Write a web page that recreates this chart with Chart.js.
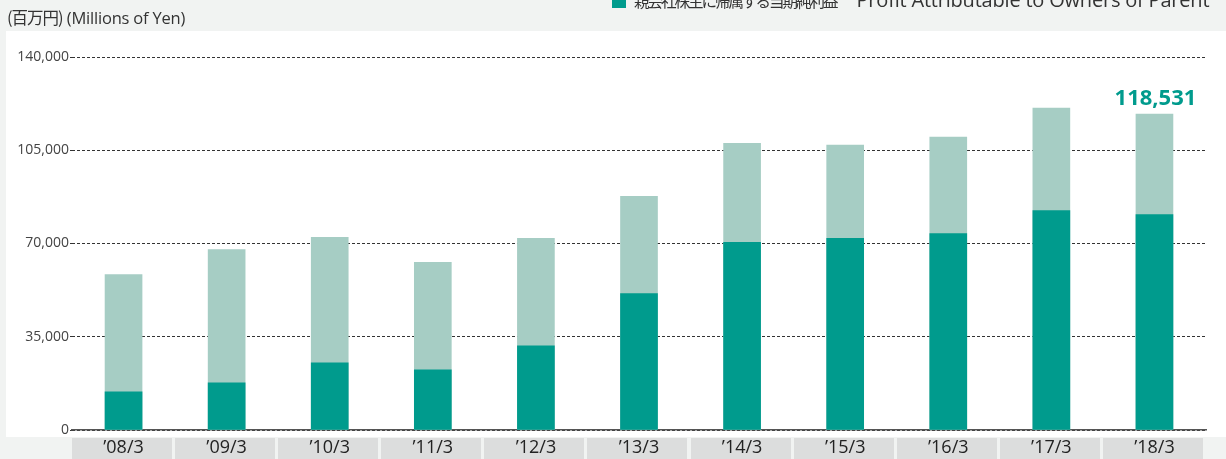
<!DOCTYPE html>
<html>
<head>
<meta charset="utf-8">
<script src="https://cdn.jsdelivr.net/npm/chart.js@4"></script>
<style>
  html, body { margin: 0; padding: 0; background: #f1f3f2; overflow: hidden; }
  #wrap { position: relative; width: 1226px; height: 459px; }
  #grafico { position: absolute; left: 0; top: 0; }
  .txt { position: absolute; white-space: nowrap; color: #333; font-family: "Open Sans", "Noto Sans CJK JP", sans-serif; }
  #unidad { left: 7px; top: 5px; font-size: 16.5px; letter-spacing: -0.2px; }
  #unidad .jp { font-family: "Noto Sans CJK JP", sans-serif; letter-spacing: -1px; }
  #leyenda { left: 612px; top: -12px; font-size: 20px; line-height: 24px; }
  #leyenda .cuadro { display: inline-block; width: 14px; height: 14px; background: #009b8d; vertical-align: -1px; margin-right: 8px; }
  #leyenda .jp { font-family: "Noto Sans CJK JP", sans-serif; font-size: 15.5px; letter-spacing: -2px; }
  #leyenda .en { margin-left: 20px; letter-spacing: -0.2px; }
</style>
</head>
<body>
<div id="wrap">
  <canvas id="grafico" width="1226" height="459"></canvas>
  <div class="txt" id="unidad"><span class="jp">(百万円)</span> (Millions of Yen)</div>
  <div class="txt" id="leyenda"><span class="cuadro"></span><span class="jp">親会社株主に帰属する当期純利益</span><span class="en">Profit Attributable to Owners of Parent</span></div>
</div>
<script>
// datos (millones de yenes)
const periodos = ["’08/3", "’09/3", "’10/3", "’11/3", "’12/3", "’13/3", "’14/3", "’15/3", "’16/3", "’17/3", "’18/3"];
const utilidadNeta = [14300, 17700, 25200, 22600, 31600, 51200, 70400, 71900, 73700, 82400, 80900];
const totalBarra = [58300, 67700, 72300, 62900, 71900, 87700, 107600, 106900, 109900, 120800, 118531];
const ticksY = [0, 35000, 70000, 105000, 140000];

const colorOscuro = "#009b8d";
const colorClaro = "#a6cdc4";

// fondo, panel blanco y celdas de las etiquetas del eje X
const fondoPlugin = {
    id: "fondo",
    beforeDraw(chart) {
        const ctx = chart.ctx;
        ctx.save();
        ctx.fillStyle = "#f1f3f2";
        ctx.fillRect(0, 0, chart.width, chart.height);
        ctx.fillStyle = "#ffffff";
        ctx.fillRect(6, 31, chart.width - 6, 406);
        const area = chart.chartArea;
        const ancho = (area.right - area.left) / periodos.length;
        ctx.fillStyle = "#dcdddd";
        for (let i = 0; i < periodos.length; i++) {
            let x0 = area.left + i * ancho;
            ctx.fillRect(Math.round(x0), 438, Math.round(ancho - 3.5), chart.height - 438);
        }
        ctx.restore();
    }
};

// valor destacado sobre la ultima barra
const etiquetaPlugin = {
    id: "etiqueta",
    afterDatasetsDraw(chart) {
        const ctx = chart.ctx;
        const i = totalBarra.length - 1;
        const x = chart.scales.x.getPixelForValue(i);
        const y = chart.scales.y.getPixelForValue(totalBarra[i]);
        ctx.save();
        ctx.fillStyle = colorOscuro;
        ctx.font = "bold 22px 'Open Sans', sans-serif";
        ctx.textAlign = "center";
        ctx.textBaseline = "bottom";
        ctx.fillText(totalBarra[i].toLocaleString("en-US"), x + 1, y - 4);
        ctx.restore();
    }
};

const ctx = document.getElementById("grafico");
const grafico = new Chart(ctx, {
    type: "bar",
    data: {
        labels: periodos,
        datasets: [{
            label: "親会社株主に帰属する当期純利益",
            data: utilidadNeta,
            backgroundColor: colorOscuro,
            barThickness: 37
        }, {
            label: "total",
            data: totalBarra,
            backgroundColor: colorClaro,
            barThickness: 37
        }]
    },
    options: {
        responsive: false,
        animation: false,
        layout: { padding: { left: 0, right: 20, top: 57, bottom: 0 } },
        plugins: {
            legend: { display: false },
            tooltip: { enabled: false }
        },
        scales: {
            x: {
                stacked: true,
                grid: { display: false, drawTicks: false },
                border: { display: true, color: "#555555", width: 1.5 },
                ticks: {
                    color: "#222222",
                    padding: 7,
                    font: { family: "'Open Sans', sans-serif", size: 18 }
                },
                afterFit(scale) { scale.height = 29; }
            },
            y: {
                stacked: false,
                min: 0,
                max: 140000,
                afterBuildTicks(scale) { scale.ticks = ticksY.map(v => ({ value: v })); },
                grid: {
                    color: "#333333",
                    lineWidth: 1,
                    tickLength: 2
                },
                border: { display: false, dash: [3, 2] },
                ticks: {
                    color: "#444444",
                    padding: 1,
                    font: { family: "'Open Sans', sans-serif", size: 14 },
                    callback: v => v.toLocaleString("en-US")
                },
                afterFit(scale) { scale.width = 72; }
            }
        }
    },
    plugins: [fondoPlugin, etiquetaPlugin]
});
</script>
</body>
</html>
